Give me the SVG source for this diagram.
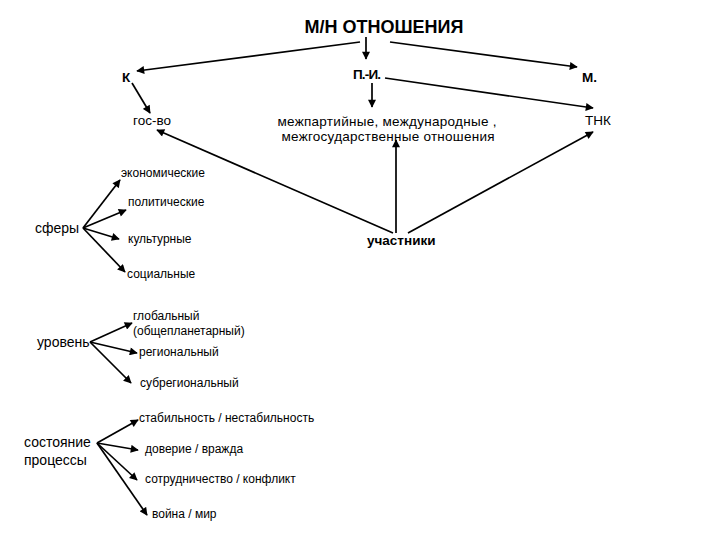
<svg xmlns="http://www.w3.org/2000/svg" width="720" height="540" viewBox="0 0 720 540">
<defs>
<marker id="ah" viewBox="0 0 10 10" refX="9" refY="5" markerWidth="9" markerHeight="8" markerUnits="userSpaceOnUse" orient="auto">
<path d="M0,0 L10,5 L0,10 z" fill="#000"/>
</marker>
</defs>
<style>
text{font-family:"Liberation Sans",Arial,sans-serif;fill:#000}
.b{font-weight:bold}
.t{font-size:18px}
.m{font-size:13.5px}
.w{font-size:13.5px}
.s{font-size:12px}
.l{font-size:14px}
.c line{stroke:#000;stroke-width:1.7}
.c .a{marker-end:url(#ah)}
</style>
<rect width="720" height="540" fill="#fff"/>
<g class="c" id="connectors">
<line class="a" x1="360" y1="42" x2="137" y2="71"/>
<line class="a" x1="366" y1="37" x2="366" y2="59"/>
<line class="a" x1="390" y1="42" x2="577" y2="67"/>
<line class="a" x1="372" y1="83" x2="372" y2="107"/>
<line class="a" x1="385" y1="78" x2="593" y2="108"/>
<line class="a" x1="132" y1="83" x2="150" y2="113"/>
<line class="a" x1="393" y1="233" x2="157" y2="130"/>
<line class="a" x1="396" y1="233" x2="396" y2="140"/>
<line class="a" x1="408" y1="233" x2="593" y2="132"/>
<line class="a" x1="83" y1="228" x2="120" y2="180"/>
<line class="a" x1="83" y1="228" x2="126" y2="210"/>
<line class="a" x1="83" y1="228" x2="119" y2="239"/>
<line class="a" x1="83" y1="228" x2="125" y2="272"/>
<line class="a" x1="90" y1="342" x2="132" y2="323"/>
<line class="a" x1="90" y1="342" x2="137" y2="353"/>
<line class="a" x1="90" y1="342" x2="131" y2="383"/>
<line class="a" x1="97" y1="443" x2="138" y2="420"/>
<line class="a" x1="97" y1="443" x2="138" y2="450"/>
<line class="a" x1="97" y1="443" x2="137" y2="480"/>
<line class="a" x1="97" y1="443" x2="147" y2="515"/>
</g>
<g id="title"><text class="b t" x="384" y="33" text-anchor="middle">М/Н ОТНОШЕНИЯ</text></g>
<g id="k"><text class="b m" x="122" y="82">К</text></g>
<g id="pi"><text class="b m" x="353" y="79" textLength="28">П.-И.</text></g>
<g id="m"><text class="b m" x="582" y="82">М.</text></g>
<g id="gos"><text class="m" x="133" y="125">гос-во</text></g>
<g id="mezh"><text class="w" x="387" y="126" text-anchor="middle" textLength="219">межпартийные, международные ,</text><text class="w" x="388" y="141" text-anchor="middle" textLength="213">межгосударственные отношения</text></g>
<g id="tnk"><text class="m" x="585" y="125">ТНК</text></g>
<g id="uch"><text class="b m" x="367" y="245">участники</text></g>
<g id="sfery"><text class="l" x="35" y="233">сферы</text></g>
<g id="econ"><text class="s" x="121" y="177">экономические</text></g>
<g id="polit"><text class="s" x="128" y="206">политические</text></g>
<g id="kult"><text class="s" x="128" y="243">культурные</text></g>
<g id="soc"><text class="s" x="127" y="278">социальные</text></g>
<g id="uroven"><text class="l" x="37" y="347">уровень</text></g>
<g id="glob"><text class="s" x="133" y="320">глобальный</text><text class="s" x="133" y="335">(общепланетарный)</text></g>
<g id="reg"><text class="s" x="139" y="356">региональный</text></g>
<g id="subreg"><text class="s" x="140" y="387">субрегиональный</text></g>
<g id="sost"><text class="l" x="24" y="447">состояние</text><text class="l" x="24" y="465">процессы</text></g>
<g id="stab"><text class="s" x="139" y="422">стабильность / нестабильность</text></g>
<g id="dov"><text class="s" x="145" y="453">доверие / вражда</text></g>
<g id="sotr"><text class="s" x="145" y="483">сотрудничество / конфликт</text></g>
<g id="voina"><text class="s" x="152" y="518">война / мир</text></g>
</svg>
